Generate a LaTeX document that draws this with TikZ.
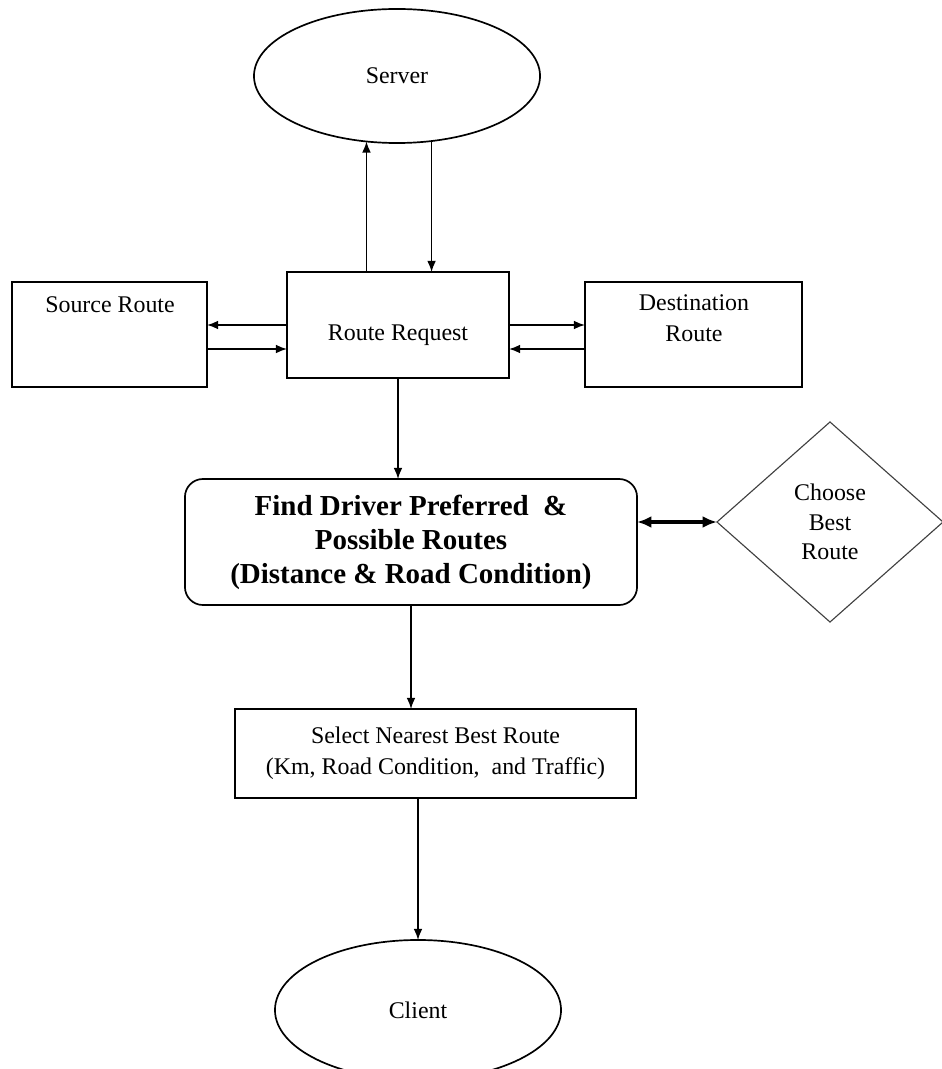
\documentclass[tikz,border=0pt]{standalone}
\usepackage{fontspec}
\setmainfont{Liberation Serif}
\usetikzlibrary{shapes.geometric,arrows.meta,positioning}

\begin{document}
\begin{tikzpicture}[x=0.025cm,y=-0.025cm,% pixel grid, y runs down
        every node/.style={font=\fontsize{17}{22}\selectfont,align=center},
        box/.style={draw,line width=1.2pt,inner sep=0pt,outer sep=0pt},%plain frame
        oval/.style={box,ellipse,minimum width=7.15cm},
        arr/.style={-{Latex[length=0.28cm,width=0.22cm]},line width=1pt},
        dblarr/.style={{Latex[length=0.36cm,width=0.3cm]}-{Latex[length=0.36cm,width=0.3cm]},line width=2.2pt}]
\useasboundingbox (0,0) rectangle (941,1069);

\node[oval,minimum height=3.35cm] (server) at (397,76) {Server};
\node[box,minimum width=5.55cm,minimum height=2.65cm,
      label={[yshift=-0.25cm]center:Route Request}] (rr) at (398,325) {};
\node[box,minimum width=4.875cm,minimum height=2.625cm] (src) at (109.5,334.5) {};
\node (srclbl) at (110,305) {Source Route}; % text sits near the top
\node[box,minimum width=5.425cm,minimum height=2.625cm] (dst) at (693.5,334.5) {};
\node (dstlbl) at (694,318.5) {Destination\\Route};

\node[box,rounded corners=0.45cm,minimum width=11.3cm,minimum height=3.15cm,
      font=\fontsize{20.6}{24.2}\selectfont\bfseries] (find) at (411,542)
      {Find Driver Preferred~ \&\\Possible Routes\\(Distance \& Road Condition)};
\node[box,diamond,line width=0.8pt,draw=black!75,minimum width=5.65cm,minimum height=5cm,
      font=\fontsize{17}{21}\selectfont] (choose) at (830,522) {Choose\\Best\\Route};
\node[box,minimum width=10.025cm,minimum height=2.225cm] (sel) at (435.5,753.5)
      {Select Nearest Best Route\\(Km, Road Condition,~ and Traffic)};
\node[oval,minimum height=3.5cm] (client) at (418,1010) {Client};

% request and answer with the server
\draw[arr] (rr.north -| server.245) -- (server.245);
\draw[arr] (server.298) -- (rr.north -| server.298);

% side boxes, two lines each
\coordinate (rrw2) at ([yshift=-0.6cm]rr.west);
\coordinate (rre2) at ([yshift=-0.6cm]rr.east);
\draw[arr] (rr.west) -- (rr.west -| src.east);
\draw[arr] (rrw2 -| src.east) -- (rrw2);
\draw[arr] (rr.east) -- (rr.east -| dst.west);
\draw[arr] (rre2 -| dst.west) -- (rre2);

% main flow downwards
\draw[arr] (rr.south) -- (rr.south |- find.north);
\draw[dblarr] (choose.west -| find.east) -- (choose.west);
\draw[arr] (find.south) -- (find.south |- sel.north);
\draw[arr] (client.north |- sel.south) -- (client.north);

\end{tikzpicture}
\end{document}
